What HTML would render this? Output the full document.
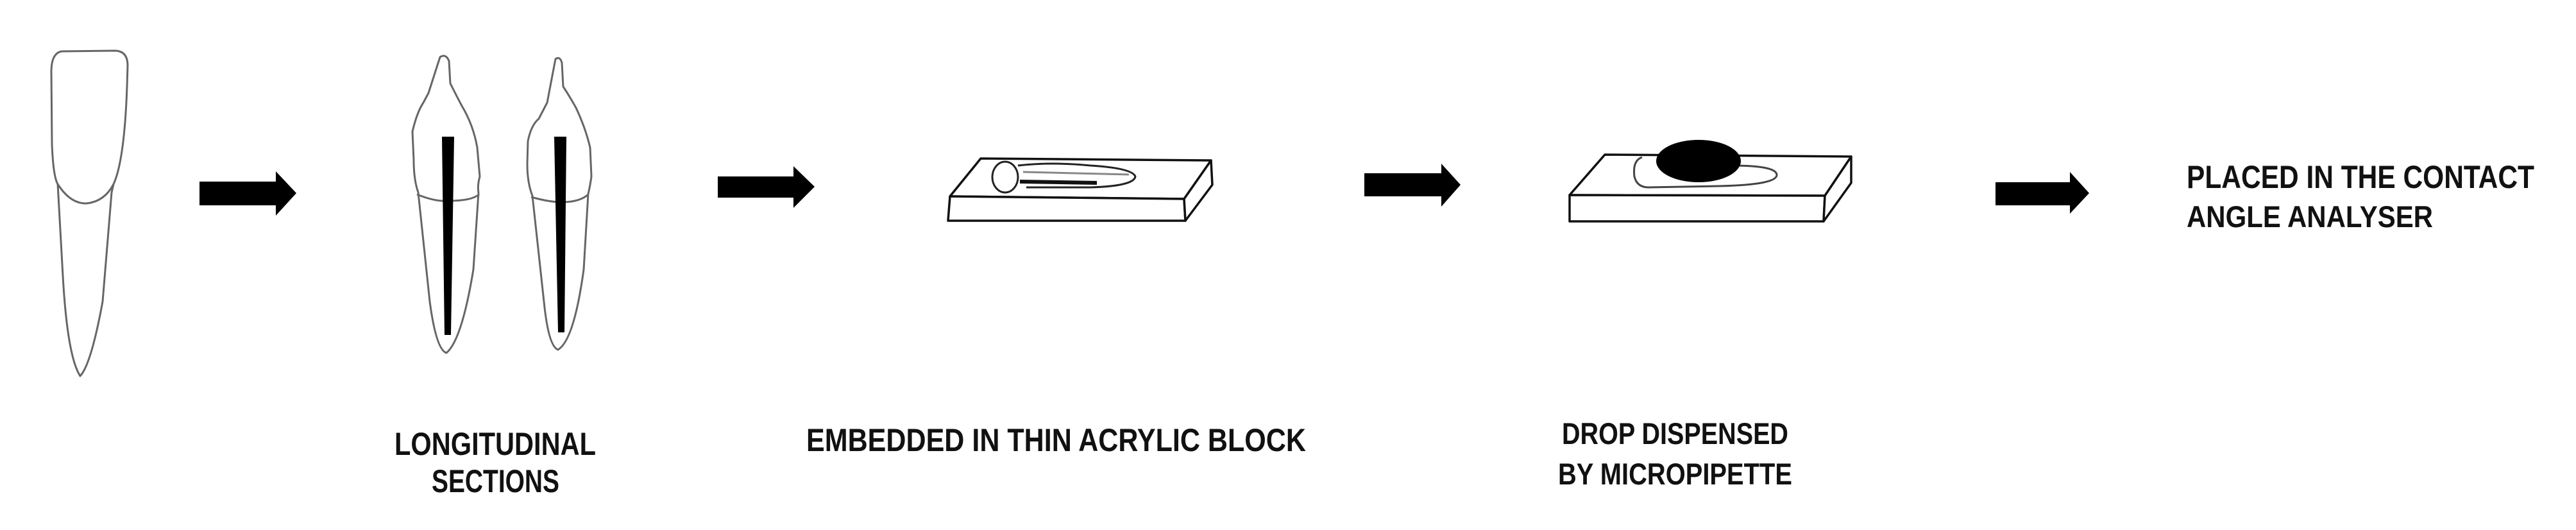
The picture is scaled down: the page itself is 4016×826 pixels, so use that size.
<!DOCTYPE html>
<html><head><meta charset="utf-8"><style>
html,body{margin:0;padding:0;background:#fff;}
svg{display:block;}
text{font-family:"Liberation Sans",sans-serif;font-weight:bold;fill:#111;}
</style></head><body>
<svg width="4016" height="826" viewBox="0 0 4016 826" xmlns="http://www.w3.org/2000/svg">
<rect width="4016" height="826" fill="#fff"/>
<g fill="none" stroke="#666" stroke-width="3" stroke-linejoin="round">
<!-- tooth 1 -->
<path d="M96,80 Q80,83 80,112 L81,225 Q83,275 90,287 L98,430 Q105,555 125,586 Q142,568 160,470 L174,300 L177,287 Q194,250 198,135 L199,102 Q199,80 180,79 Z"/>
<path d="M90,287 Q110,318 135,317 Q163,314 177,287"/>
<!-- tooth A -->
<path d="M686,89 Q695,83 700,95 L702,130 Q712,150 720,165 Q738,195 744,230 L748,275 Q744,290 746,300 L738,420 Q720,530 696,550 Q680,545 670,470 L652,300 Q645,280 645,250 L643,205 Q650,175 660,160 L668,145 Z"/>
<path d="M650,303 Q680,315 700,313 Q735,313 747,303"/>
<!-- tooth B -->
<path d="M866,92 Q873,87 876,98 L878,135 Q888,150 898,168 Q913,200 920,230 L922,275 Q920,290 917,302 L910,420 Q895,530 870,545 Q855,540 848,470 L830,305 Q822,285 822,255 L823,220 Q828,195 840,185 L853,160 Z"/>
<path d="M828,307 Q860,316 880,315 Q905,314 917,303"/>
</g>
<polygon points="689,213 708,213 703,522 693,522" fill="#000"/>
<polygon points="864,213 883,213 880,518 870,518" fill="#000"/>
<!-- arrows -->
<g fill="#000">
<polygon points="311,283 430,283 430,267 462,301 430,336 430,320 311,320"/>
<polygon points="1119,275 1237,275 1237,259 1270,291 1237,324 1237,308 1119,308"/>
<polygon points="2127,270 2247,270 2247,255 2277,288 2247,322 2247,306 2127,306"/>
<polygon points="3111,284 3227,284 3227,268 3257,301 3227,333 3227,320 3111,320"/>
</g>
<!-- block 1 -->
<g fill="#fff" stroke="#111" stroke-width="3.5" stroke-linejoin="round">
<polygon points="1529,247 1888,250 1846,310 1481,306"/>
<polygon points="1481,306 1846,310 1848,344 1478,344"/>
<polygon points="1888,250 1890,288 1848,344 1846,310"/>
</g>
<g fill="none" stroke="#222" stroke-width="3">
<ellipse cx="1567" cy="276" rx="20" ry="24"/>
<path d="M1587,258 Q1640,252 1700,258 Q1765,262 1770,275 Q1768,290 1700,292 L1600,292"/>
<path d="M1595,268 L1760,272" stroke="#888"/>
</g>
<path d="M1590,280 L1710,282 L1710,288 L1590,286Z" fill="#111"/>
<!-- block 2 -->
<g fill="#fff" stroke="#111" stroke-width="3.5" stroke-linejoin="round">
<polygon points="2502,241 2886,244 2845,305 2447,304"/>
<polygon points="2447,304 2845,305 2843,345 2447,345"/>
<polygon points="2886,244 2886,285 2843,345 2845,305"/>
</g>
<g fill="none" stroke="#444" stroke-width="3">
<path d="M2560,245 Q2545,250 2548,275 Q2552,292 2570,292 L2680,290 Q2772,288 2770,272 Q2768,258 2700,258"/>
</g>
<ellipse cx="2648" cy="251" rx="66" ry="33" fill="#000"/>
<!-- labels -->
<text x="615" y="709" font-size="50" textLength="314" lengthAdjust="spacingAndGlyphs">LONGITUDINAL</text>
<text x="673" y="767" font-size="50" textLength="199" lengthAdjust="spacingAndGlyphs">SECTIONS</text>
<text x="1257" y="703" font-size="50" textLength="779" lengthAdjust="spacingAndGlyphs">EMBEDDED IN THIN ACRYLIC BLOCK</text>
<text x="2435" y="692" font-size="47" textLength="353" lengthAdjust="spacingAndGlyphs">DROP DISPENSED</text>
<text x="2429" y="755" font-size="47" textLength="365" lengthAdjust="spacingAndGlyphs">BY MICROPIPETTE</text>
<text x="3409" y="293" font-size="50" textLength="542" lengthAdjust="spacingAndGlyphs">PLACED IN THE CONTACT</text>
<text x="3409" y="354" font-size="47" textLength="384" lengthAdjust="spacingAndGlyphs">ANGLE ANALYSER</text>
</svg>
</body></html>
